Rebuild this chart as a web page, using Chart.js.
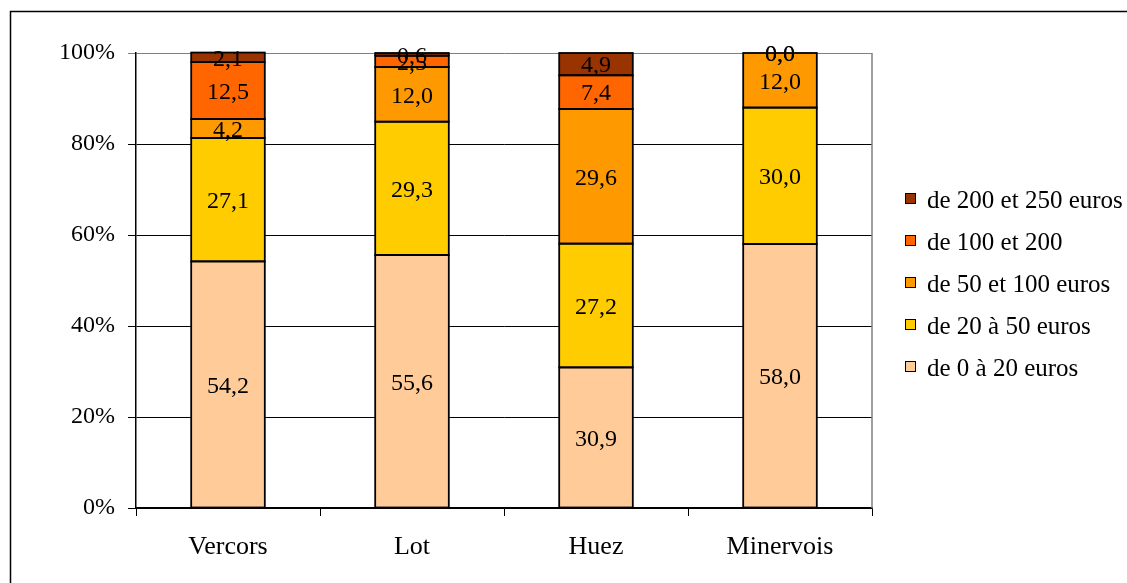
<!DOCTYPE html>
<html>
<head>
<meta charset="utf-8">
<script src="https://cdn.jsdelivr.net/npm/chart.js@4.4.1/dist/chart.umd.min.js"></script>
<style>
  html, body { margin: 0; padding: 0; background: #fff; }
  #wrap { width: 1127px; height: 583px; }
</style>
</head>
<body>
<div id="wrap"><canvas id="priceChart" width="1127" height="583"></canvas></div>
<script>
// Sites on the x axis
const sites = ['Vercors', 'Lot', 'Huez', 'Minervois'];

// Share of each spending band per site (%)
const band0to20 = [54.2, 55.6, 30.9, 58.0];
const band20to50 = [27.1, 29.3, 27.2, 30.0];
const band50to100 = [4.2, 12.0, 29.6, 12.0];
const band100to200 = [12.5, 2.5, 7.4, 0.0];
const band200to250 = [2.1, 0.6, 4.9, 0.0];

const bandNames = ['de 0 à 20 euros', 'de 20 à 50 euros', 'de 50 et 100 euros', 'de 100 et 200', 'de 200 et 250 euros'];
const bandColors = ['#FFCC99', '#FFCC00', '#FF9900', '#FF6600', '#993300'];
const yTicks = [0, 20, 40, 60, 80, 100];

const FONT = '"Liberation Serif", "Times New Roman", serif';

function fmt(v) {
    return v.toFixed(1).replace('.', ',');
}

// black outline round every segment, then its value in the middle
const segmentLabels = {
    id: 'segmentLabels',
    afterDatasetsDraw(chart) {
        const ctx = chart.ctx;
        ctx.save();
        ctx.strokeStyle = '#000';
        ctx.lineWidth = 1.8;
        chart.data.datasets.forEach(function(ds, i) {
            chart.getDatasetMeta(i).data.forEach(function(bar, j) {
                if (ds.data[j] === 0) return;
                const top = Math.min(bar.y, bar.base);
                const h = Math.abs(bar.base - bar.y);
                ctx.strokeRect(bar.x - bar.width / 2, top, bar.width, h);
            });
        });

        ctx.font = '24px ' + FONT;
        ctx.fillStyle = '#000';
        ctx.textAlign = 'center';
        ctx.textBaseline = 'middle';
        chart.data.datasets.forEach(function(ds, i) {
            chart.getDatasetMeta(i).data.forEach(function(bar, j) {
                const y = (bar.y + bar.base) / 2;
                ctx.fillText(fmt(ds.data[j]), bar.x, y + 2);
            });
        });
        ctx.restore();
    }
};

// outer frame, plot border and legend on the right
const frameAndLegend = {
    id: 'frameAndLegend',
    beforeDraw(chart) {
        const ctx = chart.ctx;
        ctx.save();
        ctx.strokeStyle = '#000';
        ctx.lineWidth = 1.5;
        ctx.beginPath();
        ctx.moveTo(10.5, 600);
        ctx.lineTo(10.5, 11.5);
        ctx.lineTo(1140, 11.5);
        ctx.stroke();
        ctx.restore();
    },
    afterDraw(chart) {
        const ctx = chart.ctx;
        const area = chart.chartArea;
        ctx.save();
        ctx.strokeStyle = '#808080';
        ctx.lineWidth = 1.5;
        ctx.beginPath();
        ctx.moveTo(area.right, area.top);
        ctx.lineTo(area.right, area.bottom);
        ctx.stroke();

        ctx.font = '25px ' + FONT;
        ctx.textAlign = 'left';
        ctx.textBaseline = 'middle';
        const n = chart.data.datasets.length;
        for (let k = 0; k < n; k++) {
            const ds = chart.data.datasets[n - 1 - k];
            const cy = 199 + k * 42;
            ctx.fillStyle = ds.backgroundColor;
            ctx.fillRect(905, cy - 6, 11, 11);
            ctx.strokeStyle = '#000';
            ctx.lineWidth = 1;
            ctx.strokeRect(905.5, cy - 5.5, 10, 10);
            ctx.fillStyle = '#000';
            ctx.fillText(ds.label, 927, cy + 2);
        }
        ctx.restore();
    }
};

const datasets = [band0to20, band20to50, band50to100, band100to200, band200to250].map(function(values, i) {
    return {
        label: bandNames[i],
        data: values,
        backgroundColor: bandColors[i],
        borderWidth: 0,
        barPercentage: 0.4,
        categoryPercentage: 1.0
    };
});

new Chart(document.getElementById('priceChart').getContext('2d'), {
    type: 'bar',
    data: { labels: sites, datasets: datasets },
    options: {
        responsive: false,
        animation: false,
        events: [],
        layout: { padding: { top: 53, right: 255, bottom: 0, left: 0 } },
        scales: {
            x: {
                stacked: true,
                offset: true,
                afterFit: function(scale) { scale.height = 75; },
                grid: {
                    offset: true,
                    drawOnChartArea: false,
                    drawTicks: true,
                    tickLength: 8,
                    color: '#000',
                    lineWidth: 1
                },
                border: { color: '#000', width: 1.5 },
                ticks: {
                    color: '#000',
                    padding: 16,
                    font: { family: FONT, size: 26 }
                }
            },
            y: {
                stacked: true,
                min: 0,
                max: 100,
                afterFit: function(scale) { scale.width = 136; },
                afterBuildTicks: function(scale) {
                    scale.ticks = yTicks.map(function(v) { return { value: v }; });
                },
                grid: {
                    drawTicks: true,
                    tickLength: 8,
                    lineWidth: 1,
                    color: function(c) { return c.tick && c.tick.value === 100 ? '#808080' : '#000'; }
                },
                border: { color: '#000', width: 1.5 },
                ticks: {
                    color: '#000',
                    padding: 13,
                    font: { family: FONT, size: 24 },
                    callback: function(v) { return v + '%'; }
                }
            }
        },
        plugins: {
            legend: { display: false },
            tooltip: { enabled: false }
        }
    },
    plugins: [segmentLabels, frameAndLegend]
});
</script>
</body>
</html>
